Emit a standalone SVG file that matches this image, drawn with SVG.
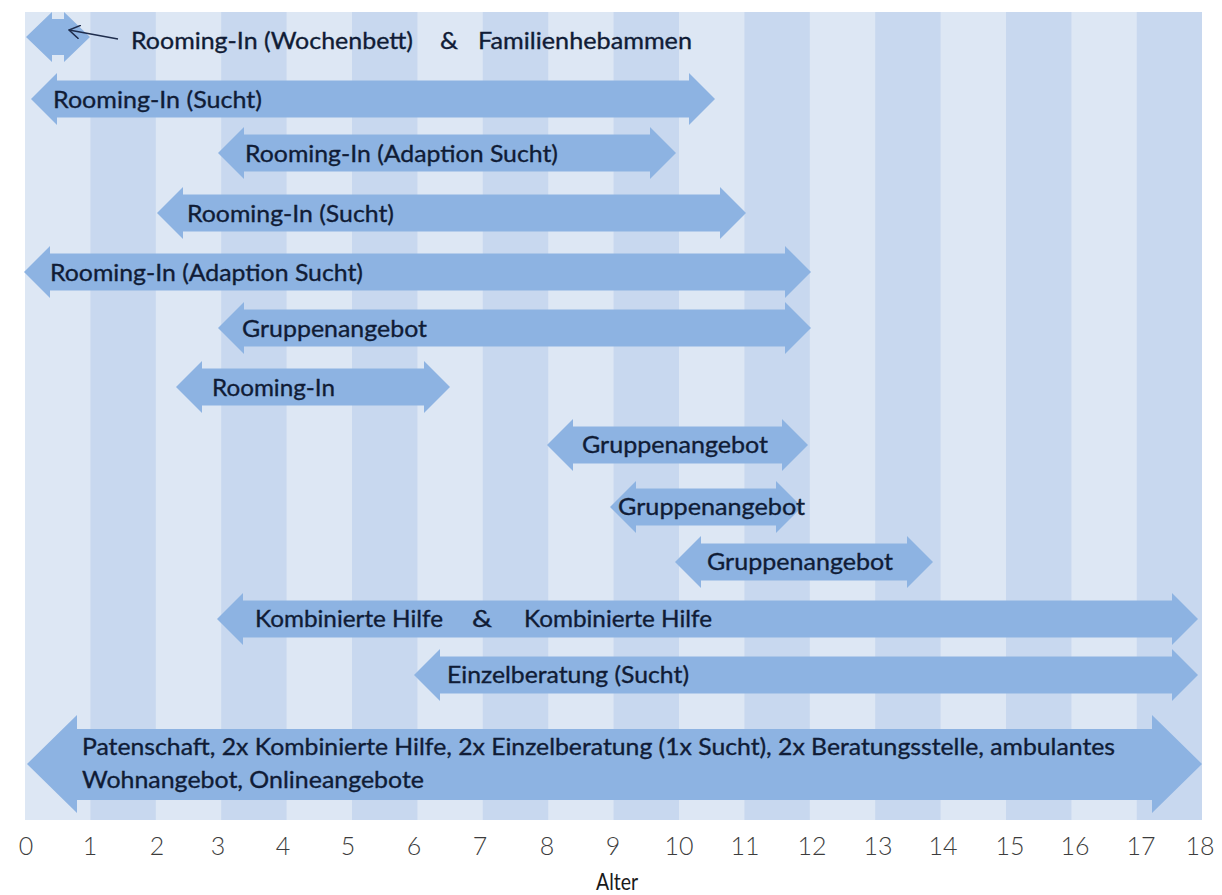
<svg xmlns="http://www.w3.org/2000/svg" width="1222" height="895" viewBox="0 0 1222 895">
<defs>
<style>
.bg{fill:#ffffff}
.lt{fill:#dde7f4}
.dk{fill:#c8d8ef}
.ar{fill:#8db3e2}
.lb{font-family:Lato,"Open Sans","Liberation Sans",sans-serif;font-size:24px;fill:#101c36;stroke:#101c36;stroke-width:0.35}
.tk{font-family:Lato,"Open Sans","Liberation Sans",sans-serif;font-size:25px;font-weight:300;fill:#3c3c3c;text-anchor:middle}
.ax{font-family:Lato,"Open Sans","Liberation Sans",sans-serif;font-size:23px;fill:#1a1a1a}
.cn{stroke:#1f2d4d;stroke-width:1.5;fill:none}
</style>
<marker id="open" viewBox="0 0 12 14" markerWidth="12" markerHeight="14" refX="11" refY="7" orient="auto" markerUnits="userSpaceOnUse">
<path d="M0,0 L11,7 L0,14" fill="none" stroke="#1f2d4d" stroke-width="1.5"/>
</marker>
</defs>
<rect class="bg" x="0" y="0" width="1222" height="895"/>
<g id="panel">
<rect class="lt" x="25" y="12" width="1177" height="808"/>
<rect class="dk" x="90.4" y="12" width="65.4" height="808"/>
<rect class="dk" x="221.2" y="12" width="65.4" height="808"/>
<rect class="dk" x="352" y="12" width="65.4" height="808"/>
<rect class="dk" x="482.8" y="12" width="65.4" height="808"/>
<rect class="dk" x="613.6" y="12" width="65.4" height="808"/>
<rect class="dk" x="744.4" y="12" width="65.4" height="808"/>
<rect class="dk" x="875.2" y="12" width="65.4" height="808"/>
<rect class="dk" x="1006" y="12" width="65.4" height="808"/>
<rect class="dk" x="1136.8" y="12" width="65.2" height="808"/>
</g>
<g id="bar1">
<path class="ar" d="M26,37 L52,12 L52,19 L64,19 L64,12 L90,37 L64,62 L64,55 L52,55 L52,62 Z"/>
<text class="lb" x="131" y="49" textLength="282" lengthAdjust="spacingAndGlyphs">Rooming-In (Wochenbett)</text>
<text class="lb" x="440" y="49" textLength="18" lengthAdjust="spacingAndGlyphs">&amp;</text>
<text class="lb" x="478" y="49" textLength="214" lengthAdjust="spacingAndGlyphs">Familienhebammen</text>
</g>
<g id="bar2">
<path class="ar" d="M31,99 L57,73 L57,80.5 L689,80.5 L689,73 L715,99 L689,125 L689,117.5 L57,117.5 L57,125 Z"/>
<text class="lb" x="53" y="107.5" textLength="209" lengthAdjust="spacingAndGlyphs">Rooming-In (Sucht)</text>
</g>
<g id="bar3">
<path class="ar" d="M218,153 L244,127 L244,134.5 L650,134.5 L650,127 L676,153 L650,179 L650,171.5 L244,171.5 L244,179 Z"/>
<text class="lb" x="245" y="161.5" textLength="313" lengthAdjust="spacingAndGlyphs">Rooming-In (Adaption Sucht)</text>
</g>
<g id="bar4">
<path class="ar" d="M157,213 L183,187 L183,194.5 L720,194.5 L720,187 L746,213 L720,239 L720,231.5 L183,231.5 L183,239 Z"/>
<text class="lb" x="187" y="221.5" textLength="207" lengthAdjust="spacingAndGlyphs">Rooming-In (Sucht)</text>
</g>
<g id="bar5">
<path class="ar" d="M24,272 L50,246 L50,253.5 L785,253.5 L785,246 L811,272 L785,298 L785,290.5 L50,290.5 L50,298 Z"/>
<text class="lb" x="50" y="280.5" textLength="313" lengthAdjust="spacingAndGlyphs">Rooming-In (Adaption Sucht)</text>
</g>
<g id="bar6">
<path class="ar" d="M218,328 L244,302 L244,309.5 L785,309.5 L785,302 L811,328 L785,354 L785,346.5 L244,346.5 L244,354 Z"/>
<text class="lb" x="242" y="336.5" textLength="185" lengthAdjust="spacingAndGlyphs">Gruppenangebot</text>
</g>
<g id="bar7">
<path class="ar" d="M176,387 L202,361 L202,368.5 L424,368.5 L424,361 L450,387 L424,413 L424,405.5 L202,405.5 L202,413 Z"/>
<text class="lb" x="212" y="395.5" textLength="123" lengthAdjust="spacingAndGlyphs">Rooming-In</text>
</g>
<g id="bar8">
<path class="ar" d="M547,445 L573,419 L573,426.5 L782,426.5 L782,419 L808,445 L782,471 L782,463.5 L573,463.5 L573,471 Z"/>
<text class="lb" x="582" y="453" textLength="186" lengthAdjust="spacingAndGlyphs">Gruppenangebot</text>
</g>
<g id="bar9">
<path class="ar" d="M610,507 L636,481 L636,488.5 L776,488.5 L776,481 L802,507 L776,533 L776,525.5 L636,525.5 L636,533 Z"/>
<text class="lb" x="618" y="515" textLength="187" lengthAdjust="spacingAndGlyphs">Gruppenangebot</text>
</g>
<g id="bar10">
<path class="ar" d="M675,562 L701,536 L701,543.5 L907,543.5 L907,536 L933,562 L907,588 L907,580.5 L701,580.5 L701,588 Z"/>
<text class="lb" x="707" y="570" textLength="186" lengthAdjust="spacingAndGlyphs">Gruppenangebot</text>
</g>
<g id="bar11">
<path class="ar" d="M217,619 L243,593 L243,600.5 L1172,600.5 L1172,593 L1198,619 L1172,645 L1172,637.5 L243,637.5 L243,645 Z"/>
<text class="lb" x="255" y="627" textLength="188" lengthAdjust="spacingAndGlyphs">Kombinierte Hilfe</text>
<text class="lb" x="472" y="627" textLength="20" lengthAdjust="spacingAndGlyphs">&amp;</text>
<text class="lb" x="524" y="627" textLength="188" lengthAdjust="spacingAndGlyphs">Kombinierte Hilfe</text>
</g>
<g id="bar12">
<path class="ar" d="M414,675 L440,649 L440,656.5 L1172,656.5 L1172,649 L1198,675 L1172,701 L1172,693.5 L440,693.5 L440,701 Z"/>
<text class="lb" x="447" y="683" textLength="242" lengthAdjust="spacingAndGlyphs">Einzelberatung (Sucht)</text>
</g>
<g id="bar13">
<path class="ar" d="M27,764 L77,715 L77,729 L1152,729 L1152,715 L1202,764 L1152,813 L1152,800 L77,800 L77,813 Z"/>
<text class="lb" x="82" y="755" textLength="1033" lengthAdjust="spacingAndGlyphs">Patenschaft, 2x Kombinierte Hilfe, 2x Einzelberatung (1x Sucht), 2x Beratungsstelle, ambulantes</text>
<text class="lb" x="82" y="788" textLength="342" lengthAdjust="spacingAndGlyphs">Wohnangebot, Onlineangebote</text>
</g>
<g id="connectors">
<line class="cn" x1="118" y1="39" x2="69" y2="30" marker-end="url(#open)"/>
</g>
<g id="axis">
<text class="tk" x="26" y="855">0</text>
<text class="tk" x="90" y="855">1</text>
<text class="tk" x="157" y="855">2</text>
<text class="tk" x="218" y="855">3</text>
<text class="tk" x="283" y="855">4</text>
<text class="tk" x="348" y="855">5</text>
<text class="tk" x="414" y="855">6</text>
<text class="tk" x="480" y="855">7</text>
<text class="tk" x="547" y="855">8</text>
<text class="tk" x="613" y="855">9</text>
<text class="tk" x="679" y="855">10</text>
<text class="tk" x="745" y="855">11</text>
<text class="tk" x="812" y="855">12</text>
<text class="tk" x="878" y="855">13</text>
<text class="tk" x="943" y="855">14</text>
<text class="tk" x="1010" y="855">15</text>
<text class="tk" x="1075" y="855">16</text>
<text class="tk" x="1141" y="855">17</text>
<text class="tk" x="1200" y="855">18</text>
<text class="ax" x="596" y="890" textLength="42" lengthAdjust="spacingAndGlyphs">Alter</text>
</g>
</svg>
